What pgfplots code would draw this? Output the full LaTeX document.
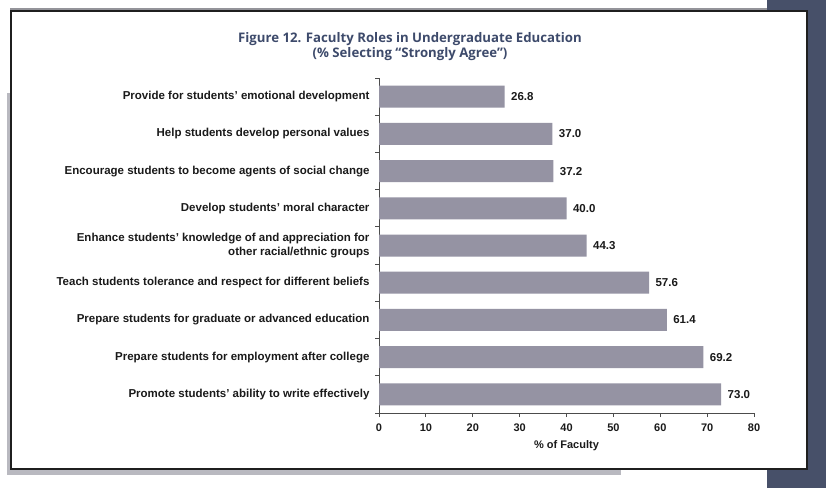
\documentclass[border=0pt]{standalone}
\usepackage{pgfplots}
\pgfplotsset{compat=1.18}
\usepackage{fontspec}
\setmainfont{Liberation Sans}
\newfontfamily\titlefont{Open Sans}
\definecolor{panel}{HTML}{475069}
\definecolor{barc}{HTML}{9593A3}
\definecolor{titlec}{HTML}{3D4A6B}
\definecolor{shadowc}{HTML}{B9B9C0}
\definecolor{txt}{HTML}{1A1A1A}
\begin{document}
\begin{tikzpicture}[x=1pt,y=1pt]
\path[use as bounding box] (0,0) rectangle (826,488);
\fill[white] (0,0) rectangle (826,488);
\fill[panel] (767,0) rectangle (826,488);
\fill[shadowc] (7,13) rectangle (621,395);
\draw[shadowc!80!black, line width=1.2] (10,479) -- (767,479);
\draw[fill=white, draw=black!88, line width=2] (11,477) rectangle (807,19);
\node[font=\titlefont\bfseries\fontsize{13.2}{15}\selectfont, color=titlec, align=center] at (410,441) {Figure 12. Faculty Roles in Undergraduate Education\\(\% Selecting “Strongly Agree”)};
\begin{axis}[
  at={(379pt,75pt)}, anchor=south west,
  scale only axis, width=375pt, height=335pt,
  xbar, bar width=22pt,
  xmin=0, xmax=80, ymin=-0.5, ymax=8.5, y dir=reverse,
  axis x line*=bottom, axis y line*=left,
  xtick={0,10,...,80},
  ytick={0,...,8},
  yticklabels={Provide for students’ emotional development,
    Help students develop personal values,
    Encourage students to become agents of social change,
    Develop students’ moral character,
    {Enhance students’ knowledge of and appreciation for\\other racial/ethnic groups},
    Teach students tolerance and respect for different beliefs,
    Prepare students for graduate or advanced education,
    Prepare students for employment after college,
    Promote students’ ability to write effectively},
  minor ytick={-0.5,0.5,...,8.5},
  major tick length=4pt, minor tick length=4pt,
  major y tick style={draw=none},
  tick align=outside,
  axis line style={black!70, line width=0.9pt},
  tick style={black!70, line width=0.9pt},
  yticklabel style={align=right, font=\bfseries\fontsize{11.5}{13.5}\selectfont, text=txt, xshift=-2pt},
  xticklabel style={font=\bfseries\fontsize{11}{13}\selectfont, text=txt, yshift=-3pt, /pgf/number format/assume math mode=true},
  xlabel={\% of Faculty},
  xlabel style={font=\bfseries\fontsize{11}{13}\selectfont, text=txt, yshift=-2pt},
  nodes near coords={\pgfmathprintnumber[fixed,fixed zerofill,precision=1,assume math mode=true]{\pgfplotspointmeta}},
  nodes near coords style={font=\bfseries\fontsize{11.5}{13}\selectfont, text=txt, xshift=3pt},
  clip=false,
]
\addplot[fill=barc, draw=none] coordinates {(26.8,0) (37.0,1) (37.2,2) (40.0,3) (44.3,4) (57.6,5) (61.4,6) (69.2,7) (73.0,8)};
\end{axis}
\end{tikzpicture}
\end{document}
